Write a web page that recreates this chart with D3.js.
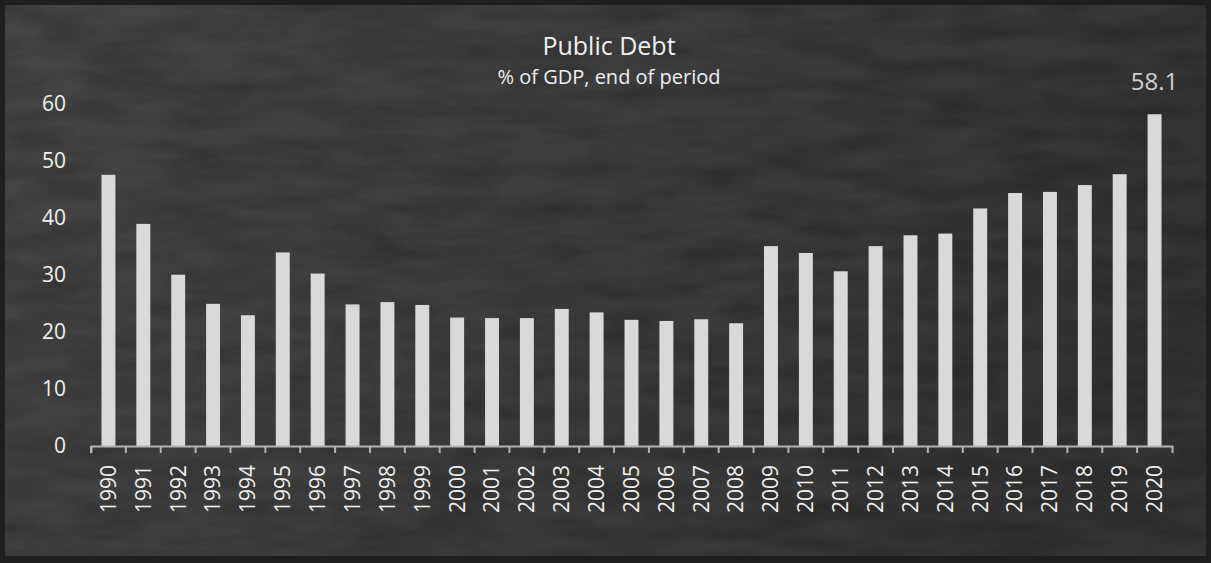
<!DOCTYPE html>
<html>
<head>
<meta charset="utf-8">
<script src="https://cdn.jsdelivr.net/npm/d3@7"></script>
<style>
  html, body { margin: 0; padding: 0; background: #1e1e1e; }
  svg { display: block; }
  text { font-family: "Segoe UI", "Open Sans", "Noto Sans", sans-serif; }
</style>
</head>
<body>
<svg id="chart" width="1211" height="563"></svg>
<script>
const years = ["1990","1991","1992","1993","1994","1995","1996","1997","1998","1999",
               "2000","2001","2002","2003","2004","2005","2006","2007","2008","2009",
               "2010","2011","2012","2013","2014","2015","2016","2017","2018","2019","2020"];
const debt = [47.5, 38.9, 30.0, 24.9, 22.9, 33.9, 30.2, 24.8, 25.2, 24.7,
              22.5, 22.4, 22.4, 24.0, 23.4, 22.1, 21.9, 22.2, 21.5, 35.0,
              33.8, 30.6, 35.0, 36.9, 37.2, 41.6, 44.3, 44.5, 45.7, 47.6, 58.1];
const yTicks = [0, 10, 20, 30, 40, 50, 60];
const title = "Public Debt";
const subtitle = "% of GDP, end of period";
const labelYear = "2020";

const W = 1211, H = 563;
const svg = d3.select("#chart");

// background panel
const defs = svg.append("defs");
const grad = defs.append("linearGradient").attr("id", "bg").attr("x1", 0).attr("y1", 0).attr("x2", 1).attr("y2", 0.3);
grad.append("stop").attr("offset", "0%").attr("stop-color", "#454545");
grad.append("stop").attr("offset", "55%").attr("stop-color", "#3d3d3d");
grad.append("stop").attr("offset", "100%").attr("stop-color", "#343434");
const filt = defs.append("filter").attr("id", "noise").attr("x", 0).attr("y", 0).attr("width", "100%").attr("height", "100%");
filt.append("feTurbulence").attr("type", "fractalNoise").attr("baseFrequency", "0.012 0.05").attr("numOctaves", 4).attr("seed", 7);
filt.append("feColorMatrix").attr("type", "matrix")
  .attr("values", "0 0 0 0 0  0 0 0 0 0  0 0 0 0 0  0 0 0 -1.1 0.75");

svg.append("rect").attr("width", W).attr("height", H).attr("fill", "#1e1e1e");
svg.append("rect").attr("x", 5).attr("y", 5).attr("width", W - 10).attr("height", H - 12).attr("fill", "url(#bg)");
svg.append("rect").attr("x", 5).attr("y", 5).attr("width", W - 10).attr("height", H - 12)
  .attr("filter", "url(#noise)").attr("opacity", 0.35);

// scales
const x = d3.scaleBand().domain(years).range([91, 1172]).paddingInner(0.6).paddingOuter(0.3);
const y = d3.scaleLinear().domain([0, 60]).range([446, 103.4]);

// bars
svg.append("g").selectAll("rect").data(years).join("rect")
  .attr("x", d => x(d))
  .attr("width", x.bandwidth())
  .attr("y", (d, i) => y(debt[i]))
  .attr("height", (d, i) => y(0) - y(debt[i]))
  .attr("fill", "#d9d9d9");

// x axis
const xAxis = svg.append("g").attr("transform", `translate(0,${y(0)})`)
  .call(d3.axisBottom(x).tickSizeInner(7).tickSizeOuter(7).tickPadding(0));
xAxis.select(".domain").attr("stroke", "#b4b4b4").attr("stroke-width", 2);
xAxis.selectAll(".tick line").attr("stroke", "#b4b4b4").attr("stroke-width", 2)
  .attr("transform", `translate(${-x.step() / 2},0)`);
xAxis.selectAll(".tick text")
  .attr("fill", "#f0f0f0")
  .attr("font-size", "21px")
  .attr("transform", "rotate(-90)")
  .attr("text-anchor", "end")
  .attr("x", -19)
  .attr("y", 0)
  .attr("dy", "0.35em");

// y axis labels (no line)
const yAxis = svg.append("g").attr("transform", "translate(66,0)")
  .call(d3.axisLeft(y).tickValues(yTicks).tickSize(0).tickPadding(0));
yAxis.select(".domain").remove();
yAxis.selectAll(".tick text").attr("fill", "#f0f0f0").attr("font-size", "21px");

// titles
svg.append("text").attr("x", 609).attr("y", 55).attr("text-anchor", "middle")
  .attr("fill", "#f0f0f0").attr("font-size", "25px").text(title);
svg.append("text").attr("x", 609).attr("y", 84).attr("text-anchor", "middle")
  .attr("fill", "#f0f0f0").attr("font-size", "20px").text(subtitle);

// data label on last bar
const li = years.indexOf(labelYear);
svg.append("text")
  .attr("x", x(labelYear) + x.bandwidth() / 2)
  .attr("y", y(debt[li]) - 24)
  .attr("text-anchor", "middle")
  .attr("fill", "#d0d0d0").attr("font-size", "24px")
  .text(d3.format(".1f")(debt[li]));
</script>
</body>
</html>
